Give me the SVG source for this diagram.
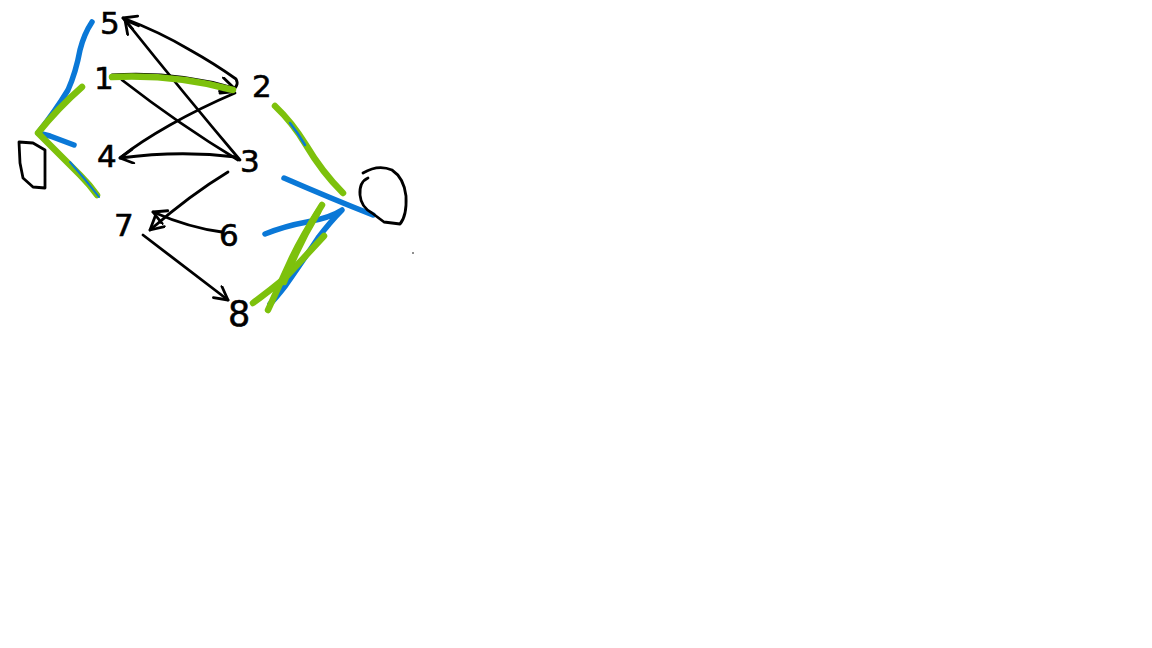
<svg xmlns="http://www.w3.org/2000/svg" width="1152" height="648" viewBox="0 0 1152 648">
<defs>
<style>
.ink{fill:none;stroke:#000;stroke-width:2.8;stroke-linecap:round;stroke-linejoin:round}
.blue{fill:none;stroke:#0a78d7;stroke-width:5.5;stroke-linecap:round;stroke-linejoin:round}
.green{fill:none;stroke:#7dc10c;stroke-width:6.5;stroke-linecap:round;stroke-linejoin:round}
.num{font-family:"DejaVu Sans","Liberation Sans",sans-serif;font-size:31px;fill:#000;stroke:#000;stroke-width:0.6}
</style>
<marker id="head" markerUnits="userSpaceOnUse" markerWidth="18" markerHeight="18" refX="15" refY="8" orient="auto">
<path d="M2,1 L15,8 L2,15" fill="none" stroke="#000" stroke-width="2.8" stroke-linecap="round" stroke-linejoin="round"/>
</marker>
</defs>
<rect width="1152" height="648" fill="#fff"/>
<g id="connectors">
<path class="ink" d="M112,75 Q175,71 234,88" marker-end="url(#head)"/>
<path class="ink" d="M220,93 L230,92 Q240,86 236,79 Q215,64 190,50 Q160,32 123,18" marker-end="url(#head)"/>
<path class="ink" d="M240,160 Q185,95 125,20" marker-end="url(#head)"/>
<path class="ink" d="M122,80 Q180,125 238,160"/>
<path class="ink" d="M235,93 Q200,108 170,125 Q140,142 121,157"/>
<path class="ink" d="M236,157 Q180,150 120,158" marker-end="url(#head)"/>
<path class="ink" d="M228,172 Q190,195 150,230" marker-end="url(#head)"/>
<path class="ink" d="M222,232 Q190,228 153,212" marker-end="url(#head)"/>
<path class="ink" d="M143,235 L228,300" marker-end="url(#head)"/>
</g>
<g id="highlights">
<path class="blue" d="M92,22 Q84,34 80,50 Q76,72 68,90 Q56,110 38,133 L50,136 L74,145"/>
<path class="green" d="M82,87 Q58,108 38,133 Q60,155 80,175 Q90,185 97,195"/>
<path class="blue" d="M70,162 Q86,180 99,197" style="stroke-width:2"/>
<path class="green" d="M112,77 Q175,74 233,90"/>
<path class="green" d="M275,106 Q292,122 306,145 Q322,172 343,193"/>
<path class="blue" d="M290,123 Q298,133 305,145" style="stroke-width:2.5"/>
<path class="blue" d="M284,178 Q330,198 373,215"/>
<path class="blue" d="M265,234 Q285,226 307,222 Q330,218 342,210 Q330,222 318,238 Q300,265 286,285 Q276,298 270,304"/>
<path class="green" d="M322,205 Q300,240 290,262 Q278,288 268,310"/>
<path class="green" d="M324,236 Q300,262 285,278 Q268,292 253,303"/>
<path class="green" d="M318,212 Q298,245 284,282"/>
</g>
<g id="node5"><text class="num" x="100" y="34">5</text></g>
<g id="node1"><text class="num" x="94" y="89">1</text></g>
<g id="node2"><text class="num" x="252" y="97">2</text></g>
<g id="node4"><text class="num" x="97" y="167">4</text></g>
<g id="node3"><text class="num" x="240" y="172">3</text></g>
<g id="node7"><text class="num" x="114" y="236">7</text></g>
<g id="node6"><text class="num" x="219" y="246">6</text></g>
<g id="node8"><text class="num" x="228" y="326" style="font-size:35px">8</text></g>
<g id="source"><path class="ink" d="M19,142 L33,143 L45,150 L45,188 L33,187 L23,178 L20,163 Z"/></g>
<g id="sink"><path class="ink" d="M368,178 Q359,182 360,195 Q361,207 372,213 L384,222 L400,224 Q407,216 406,196 Q404,178 392,170 Q378,164 363,173"/></g>
<circle cx="413" cy="253" r="0.8" fill="#000"/>
</svg>
